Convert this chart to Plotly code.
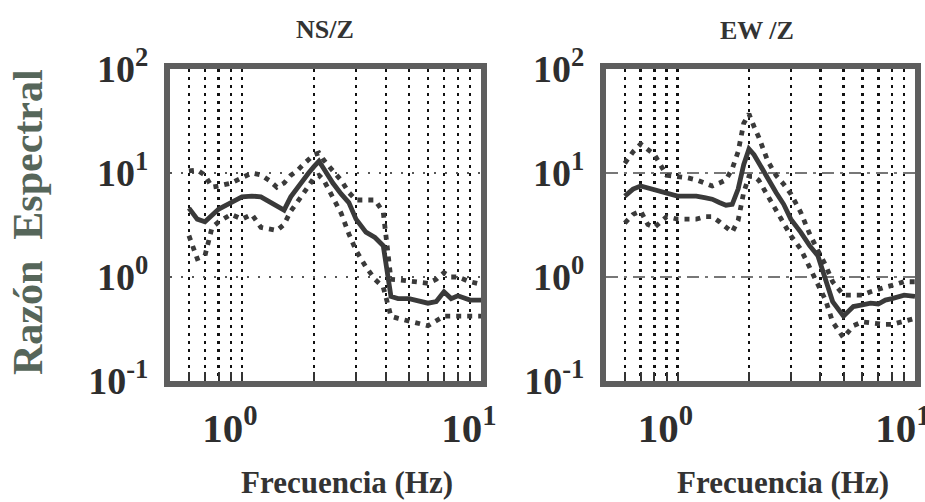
import math
import plotly.graph_objects as go

# ---------------- data ----------------
FREQ = [0.6, 0.65, 0.7, 0.75, 0.8, 0.9, 1.0, 1.1, 1.2, 1.3, 1.4, 1.5, 1.6, 1.7, 1.8,
        1.9, 2.0, 2.1, 2.2, 2.4, 2.6, 2.8, 3.0, 3.3, 3.6, 3.9, 4.2, 4.5, 5.0, 5.5,
        6.0, 6.5, 7.0, 7.5, 8.0, 9.0, 10.0]

NS_MEAN = [4.6, 3.6, 3.4, 4.0, 4.5, 5.2, 5.9, 6.0, 5.9, 5.3, 4.8, 4.4, 5.9, 7.2, 8.5,
           10.0, 11.5, 13.0, 11.0, 8.0, 6.3, 5.2, 3.6, 2.7, 2.4, 2.0, 0.65, 0.62, 0.62, 0.58,
           0.56, 0.58, 0.72, 0.62, 0.66, 0.6, 0.6]
NS_UPPER = [10.5, 10.7, 9.5, 7.3, 7.5, 8.0, 9.0, 10.0, 9.6, 8.5, 7.3, 8.0, 9.5, 10.5, 12.0,
            13.5, 15.0, 15.6, 13.3, 10.5, 8.5, 6.5, 5.5, 5.5, 5.5, 4.2, 0.95, 0.94, 0.92, 0.88,
            0.87, 0.95, 1.1, 1.0, 1.0, 0.9, 0.85]
NS_LOWER = [2.5, 1.5, 1.6, 3.0, 3.4, 4.0, 3.6, 4.0, 3.0, 2.9, 2.8, 3.2, 4.3, 5.2, 6.2,
            7.5, 9.0, 9.5, 8.5, 5.8, 4.1, 2.6, 1.8, 1.25, 0.95, 0.8, 0.42, 0.4, 0.38, 0.36,
            0.34, 0.38, 0.42, 0.42, 0.42, 0.42, 0.42]

EW_MEAN = [6.0, 7.0, 7.5, 7.2, 6.8, 6.4, 6.0, 6.0, 6.0, 5.8, 5.6, 5.2, 4.9, 5.0, 7.0,
           12.0, 17.0, 15.0, 12.5, 8.5, 6.5, 5.0, 3.6, 2.7, 2.0, 1.6, 0.95, 0.58, 0.42, 0.52,
           0.54, 0.56, 0.55, 0.6, 0.62, 0.67, 0.65]
EW_UPPER = [12.4, 16.0, 19.0, 17.0, 15.0, 9.5, 9.3, 9.0, 8.6, 8.0, 7.5, 8.0, 8.6, 11.0, 16.0,
            30.0, 37.0, 28.0, 22.0, 13.0, 9.5, 7.8, 6.3, 4.2, 2.6, 1.8, 1.3, 0.9, 0.67, 0.67,
            0.67, 0.72, 0.77, 0.8, 0.83, 0.9, 0.9]
EW_LOWER = [3.3, 4.0, 4.3, 3.2, 3.0, 3.8, 3.6, 3.6, 3.6, 3.8, 3.8, 3.4, 3.0, 2.7, 3.5,
            6.5, 9.3, 9.3, 8.5, 6.0, 4.4, 3.3, 2.5, 1.86, 1.2, 0.85, 0.6, 0.37, 0.26, 0.34,
            0.37, 0.36, 0.35, 0.35, 0.35, 0.38, 0.4]

X_TICKVALS = [1, 10]
X_TICKTEXT = ["10<sup>0</sup>", "10<sup>1</sup>"]
X_MINOR_TICKVALS = [0.6, 0.7, 0.8, 0.9, 2, 3, 4, 5, 6, 7, 8, 9]
Y_TICKVALS = [0.1, 1, 10, 100]
Y_TICKTEXT = ["10<sup>-1</sup>", "10<sup>0</sup>", "10<sup>1</sup>", "10<sup>2</sup>"]

TITLES = ["NS/Z", "EW /Z"]
X_TITLE = "Frecuencia (Hz)"
Y_TITLE = "Razón  Espectral"

# ---------------- styling ----------------
W, H = 925, 502
SERIF = "Liberation Serif"
LINE_COL = "#3a3a3a"
FRAME_COL = "#5e5e5e"
GRID = dict(gridcolor="#111111", gridwidth=2.6, griddash="3px,5px")

fig = go.Figure()

panels = [
    ("x", "y", NS_MEAN, NS_UPPER, NS_LOWER),
    ("x2", "y2", EW_MEAN, EW_UPPER, EW_LOWER),
]
for xa, ya, mean, up, lo in panels:
    for vals, dash in [(up, "5px,6px"), (lo, "5px,6px"), (mean, "solid")]:
        fig.add_trace(go.Scatter(x=FREQ, y=vals, xaxis=xa, yaxis=ya, mode="lines",
                                 line=dict(color=LINE_COL, width=4.8, dash=dash),
                                 showlegend=False, hoverinfo="skip"))

def xaxis(domain, anchor):
    return dict(type="log", range=[math.log10(0.5), 1], domain=domain, anchor=anchor,
                automargin=False, ticklabeloverflow="allow",
                tickvals=X_TICKVALS, ticktext=X_TICKTEXT, showgrid=True, **GRID,
                ticks="inside", ticklen=9, tickwidth=2, tickcolor="#333333",
                minor=dict(tickvals=X_MINOR_TICKVALS, showgrid=True, **GRID,
                           ticks="inside", ticklen=9, tickwidth=2, tickcolor="#333333"),
                showline=True, mirror=True, linewidth=6, linecolor=FRAME_COL,
                tickfont=dict(family=SERIF, size=41, color="#2e2e2e", weight="bold"),
                ticklabelshift=-12, ticklabelstandoff=6, zeroline=False)

def yaxis(domain, anchor, grid_dash, grid_col):
    return dict(type="log", range=[-1, 2], domain=domain, anchor=anchor,
                automargin=False, ticklabeloverflow="allow",
                tickvals=Y_TICKVALS, ticktext=Y_TICKTEXT,
                showgrid=True, gridcolor=grid_col, gridwidth=1.6, griddash=grid_dash,
                ticks="", showline=True, mirror=True, linewidth=6, linecolor=FRAME_COL,
                tickfont=dict(family=SERIF, size=38, color="#2e2e2e", weight="bold"),
                ticklabelstandoff=8, zeroline=False)

ydom = [1 - 381 / H, 1 - 69 / H]
fig.update_layout(
    width=W, height=H, margin=dict(l=0, r=0, t=0, b=0, autoexpand=False),
    paper_bgcolor="white", plot_bgcolor="white",
    xaxis=xaxis([170 / W, 481 / W], "y"),
    yaxis=yaxis(ydom, "x", "2px,9px", "#555555"),
    xaxis2=xaxis([606 / W, 915 / W], "y2"),
    yaxis2=yaxis(ydom, "x2", "12px,6px,3px,6px", "#777777"),
)

ann = [
    dict(text=TITLES[0], x=325 / W, y=1 - 30 / H, size=26),
    dict(text=TITLES[1], x=757 / W, y=1 - 31 / H, size=26),
    dict(text=X_TITLE, x=347 / W, y=1 - 482 / H, size=31),
    dict(text=X_TITLE, x=783 / W, y=1 - 482 / H, size=31),
]
for a in ann:
    fig.add_annotation(text=a["text"], x=a["x"], y=a["y"], xref="paper", yref="paper",
                       xanchor="center", yanchor="middle", showarrow=False,
                       font=dict(family=SERIF, size=a["size"], color="#333333", weight="bold"))
fig.add_annotation(text=Y_TITLE, x=28 / W, y=1 - 222 / H, xref="paper", yref="paper",
                   xanchor="center", yanchor="middle", showarrow=False, textangle=-90,
                   font=dict(family=SERIF, size=42, color="#56665a", weight="bold"))

fig.write_html("out.html", config={"displayModeBar": False, "staticPlot": True},
               post_script="document.body.style.margin='0';document.body.style.overflow='hidden';")
